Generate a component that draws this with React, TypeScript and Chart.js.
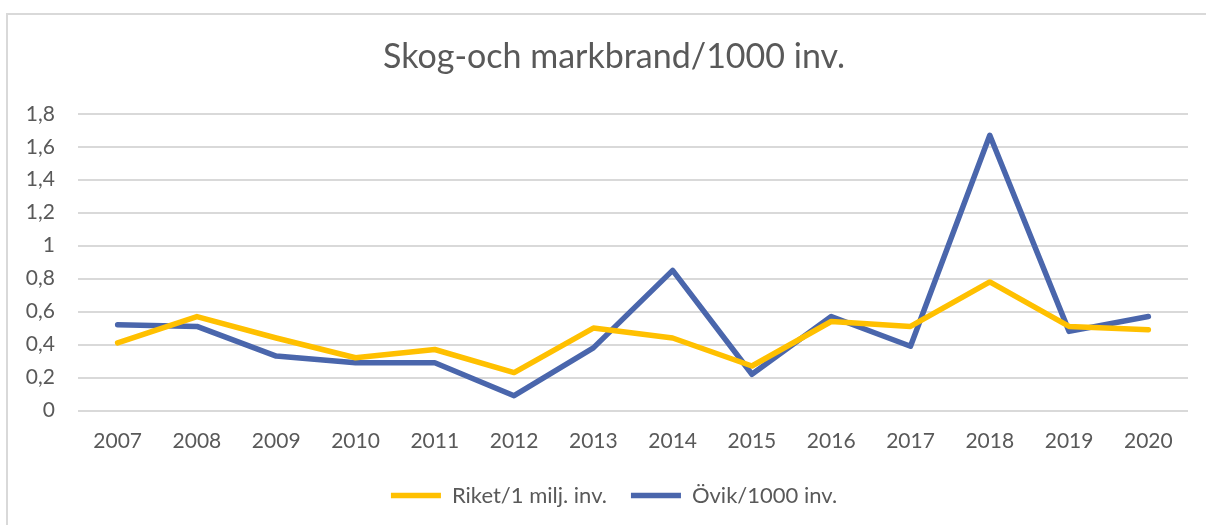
import React, { useEffect, useRef } from "react";
import { Chart, registerables } from "chart.js";

Chart.register(...registerables);

const years = ["2007", "2008", "2009", "2010", "2011", "2012", "2013", "2014", "2015", "2016", "2017", "2018", "2019", "2020"];
const riket = [0.41, 0.57, 0.44, 0.32, 0.37, 0.23, 0.5, 0.44, 0.27, 0.54, 0.51, 0.78, 0.51, 0.49];
const ovik = [0.52, 0.51, 0.33, 0.29, 0.29, 0.09, 0.38, 0.85, 0.22, 0.57, 0.39, 1.67, 0.48, 0.57];
const seriesNames = ["Riket/1 milj. inv.", "Övik/1000 inv."];
const titleText = "Skog-och markbrand/1000 inv.";

const FONT = "Lato, 'Noto Sans', sans-serif";
const TEXT = "#595959";

const framePlugin = {
  id: "frame",
  beforeDraw(chart: any) {
    const ctx = chart.ctx;
    ctx.save();
    ctx.fillStyle = "#ffffff";
    ctx.fillRect(0, 0, chart.width, chart.height);
    ctx.fillStyle = "#d9d9d9";
    ctx.fillRect(6, 13, 2, chart.height);
    ctx.fillRect(6, 13, chart.width, 2);
    ctx.restore();
  },
};

export default function App() {
  const ref = useRef<HTMLCanvasElement | null>(null);
  useEffect(() => {
    if (!ref.current) return;
    const chart = new Chart(ref.current, {
      type: "line",
      data: {
        labels: years,
        datasets: [
          {
            label: seriesNames[0],
            data: riket,
            borderColor: "#FFC000",
            backgroundColor: "#FFC000",
            borderWidth: 5.5,
            pointRadius: 0,
            borderJoinStyle: "round",
            borderCapStyle: "round",
            tension: 0,
          },
          {
            label: seriesNames[1],
            data: ovik,
            borderColor: "#4A66AC",
            backgroundColor: "#4A66AC",
            borderWidth: 5.5,
            pointRadius: 0,
            borderJoinStyle: "round",
            borderCapStyle: "round",
            tension: 0,
          },
        ],
      },
      options: {
        responsive: false,
        animation: false,
        layout: { padding: { left: 20, right: 2, top: 0, bottom: 8.5 } },
        plugins: {
          title: {
            display: true,
            text: titleText,
            color: TEXT,
            font: { family: FONT, size: 34, weight: "normal" },
            padding: { top: 37, bottom: 36 },
          },
          legend: {
            display: true,
            position: "bottom",
            labels: {
              color: TEXT,
              font: { family: FONT, size: 22 },
              usePointStyle: true,
              pointStyle: "line",
              pointStyleWidth: 50,
              boxHeight: 22,
              padding: 24,
            },
          },
          tooltip: { enabled: false },
        },
        scales: {
          x: {
            offset: true,
            grid: { display: false, drawTicks: false, offset: true },
            border: { display: false },
            ticks: { color: TEXT, font: { family: FONT, size: 21 }, padding: 18, maxRotation: 0 },
            afterFit: (s: any) => {
              s.height = 50;
            },
          },
          y: {
            min: 0,
            max: 1.8,
            grid: { color: "#d9d9d9", lineWidth: 2, drawTicks: false },
            border: { display: false },
            ticks: {
              stepSize: 0.2,
              color: TEXT,
              font: { family: FONT, size: 21 },
              padding: 23,
              callback: (v: any) => String(Number(Number(v).toFixed(1))).replace(".", ","),
            },
            afterFit: (s: any) => {
              s.width = 58;
            },
          },
          yR: {
            position: "right",
            min: 0,
            max: 1,
            grid: { display: false, drawTicks: false },
            border: { display: false },
            ticks: { display: false },
            afterFit: (s: any) => {
              s.width = 20;
            },
          },
        },
      },
      plugins: [framePlugin],
    });
    return () => chart.destroy();
  }, []);
  return (
    <div style={{ position: "fixed", left: 0, top: 0, width: 1206, height: 525, overflow: "hidden" }}>
      <canvas ref={ref} width={1210} height={525} style={{ display: "block", width: 1210, height: 525 }} />
    </div>
  );
}
